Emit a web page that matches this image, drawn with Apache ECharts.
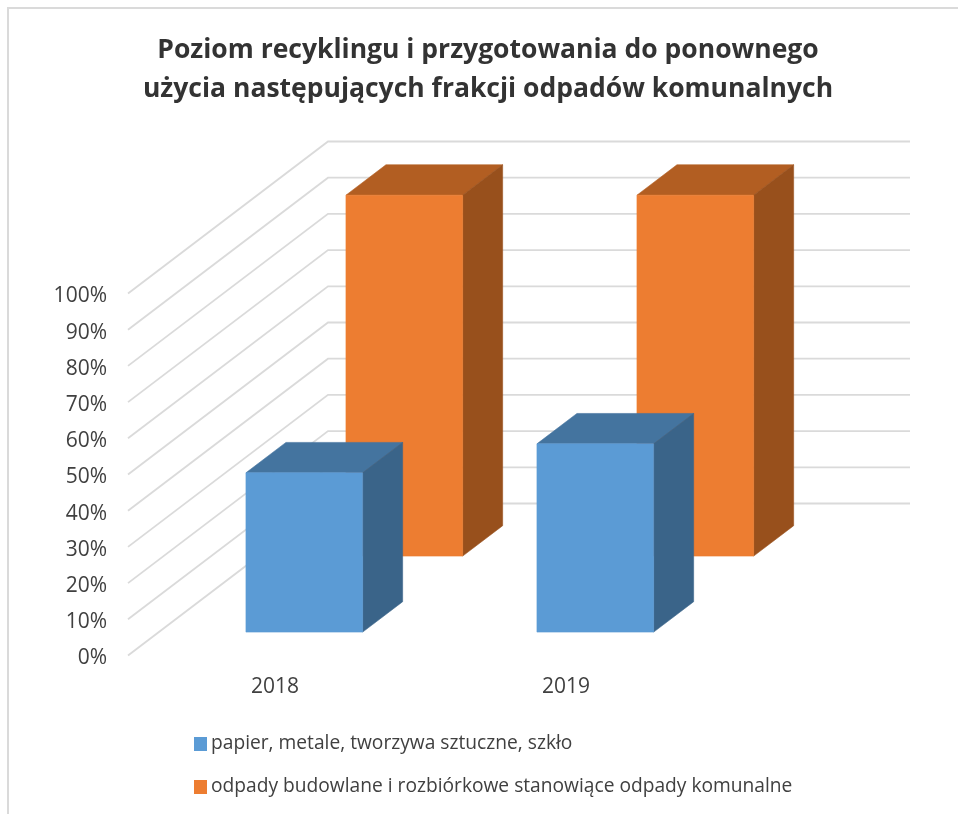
<!DOCTYPE html>
<html>
<head>
<meta charset="utf-8">
<style>
  html, body { margin: 0; padding: 0; background: #fff; }
  #chart { width: 958px; height: 814px; }
</style>
<script src="https://cdn.jsdelivr.net/npm/echarts@6/dist/echarts.min.js"></script>
</head>
<body>
<div id="chart"></div>
<script>
const years = ['2018', '2019'];
const ticks = [0, 10, 20, 30, 40, 50, 60, 70, 80, 90, 100];
const paperValues = [44, 52];
const buildingValues = [99.7, 99.7];
const paperName = 'papier, metale, tworzywa sztuczne, szkło';
const buildingName = 'odpady budowlane i rozbiórkowe stanowiące odpady komunalne';

const FONT = '"Open Sans", sans-serif';
// fake 3D: depth is a screen shift, z runs 0..1 from front wall edge to back wall
const WALL_DX = 200;
const WALL_DY = 152;
const BAR_HALF = 0.2005; // share of category band

function wallLine(params, api) {
  const cs = params.coordSys;
  const p = api.coord([0, api.value(1)]);
  return {
    type: 'polyline',
    shape: { points: [[cs.x, p[1]], [cs.x + WALL_DX, p[1] - WALL_DY], [cs.x + cs.width + WALL_DX, p[1] - WALL_DY]] },
    style: { stroke: '#DADADA', lineWidth: 1.8, fill: null },
    silent: true
  };
}

function bar3d(zFront, zBack, colors) {
  return (params, api) => {
    const band = api.size([1, 0])[0];
    const c = api.coord([api.value(0), api.value(1)]);
    const base = api.coord([api.value(0), 0]);
    const at = (side, y, z) => [c[0] + side * BAR_HALF * band + z * WALL_DX, y - z * WALL_DY];
    const poly = (points, fill) => ({ type: 'polygon', shape: { points }, style: { fill, stroke: fill, lineWidth: 0.6 } });
    return {
      type: 'group',
      children: [
        poly([at(-1, c[1], zFront), at(1, c[1], zFront), at(1, c[1], zBack), at(-1, c[1], zBack)], colors[1]),
        poly([at(1, c[1], zFront), at(1, c[1], zBack), at(1, base[1], zBack), at(1, base[1], zFront)], colors[2]),
        poly([at(-1, c[1], zFront), at(1, c[1], zFront), at(1, base[1], zFront), at(-1, base[1], zFront)], colors[0])
      ]
    };
  };
}

const chart = echarts.init(document.getElementById('chart'), null, { renderer: 'canvas' });
chart.setOption({
  animation: false,
  backgroundColor: '#fff',
  title: {
    text: 'Poziom recyklingu i przygotowania do ponownego\nużycia następujących frakcji odpadów komunalnych',
    left: 483,
    top: 26,
    textAlign: 'center',
    textStyle: { fontFamily: FONT, fontWeight: 'bold', fontSize: 26.5, lineHeight: 39, color: '#333333' }
  },
  graphic: [{
    type: 'polyline',
    shape: { points: [[8, 814], [8, 8], [958, 8]] },
    style: { stroke: '#DADADA', lineWidth: 2, fill: null },
    silent: true
  }],
  grid: { left: 128, top: 293.5, width: 582, height: 362 },
  xAxis: {
    type: 'category',
    data: years,
    axisLine: { show: false },
    axisTick: { show: false },
    axisLabel: { fontFamily: FONT, fontSize: 21, color: '#404040', margin: 21, padding: [0, 0, 0, 3] }
  },
  yAxis: {
    type: 'value',
    min: 0,
    max: 100,
    interval: 10,
    axisLine: { show: false },
    axisTick: { show: false },
    splitLine: { show: false },
    axisLabel: { formatter: '{value}%', fontFamily: FONT, fontSize: 21, color: '#404040', margin: 21, verticalAlign: 'top', lineHeight: 6 }
  },
  legend: {
    orient: 'vertical',
    left: 189,
    top: 726,
    itemWidth: 13,
    itemHeight: 14,
    itemGap: 17,
    data: [{ name: paperName, icon: 'rect' }, { name: buildingName, icon: 'rect' }],
    textStyle: { fontFamily: FONT, fontSize: 19.2, color: '#404040', padding: [0, 0, 0, -1], lineHeight: 26 }
  },
  series: [
    {
      type: 'custom',
      silent: true,
      renderItem: wallLine,
      data: ticks.map(t => [0, t]),
      clip: false
    },
    {
      name: buildingName,
      type: 'custom',
      itemStyle: { color: '#ED7D31' },
      renderItem: bar3d(0.654, 0.854, ['#ED7D31', '#B25E22', '#98501C']),
      data: buildingValues.map((v, i) => [i, v]),
      clip: false
    },
    {
      name: paperName,
      type: 'custom',
      itemStyle: { color: '#5B9BD5' },
      renderItem: bar3d(0.154, 0.354, ['#5B9BD5', '#44749F', '#3A6489']),
      data: paperValues.map((v, i) => [i, v]),
      clip: false
    }
  ]
});
window.addEventListener('resize', () => chart.resize());
</script>
</body>
</html>
